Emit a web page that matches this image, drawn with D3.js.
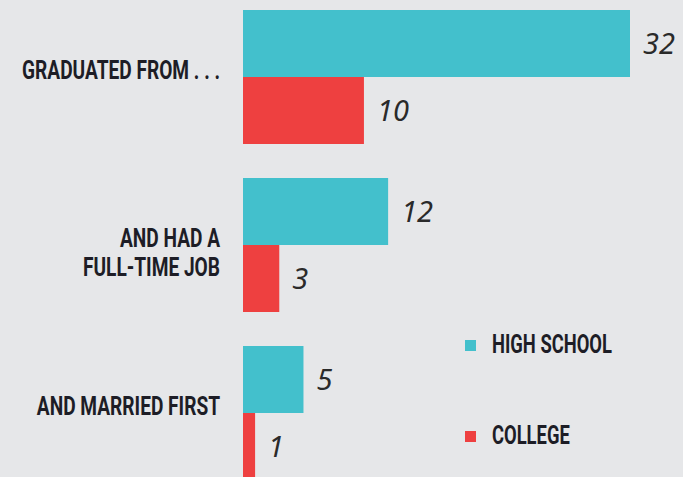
<!DOCTYPE html>
<html>
<head>
<meta charset="utf-8">
<script src="https://cdn.jsdelivr.net/npm/d3@7"></script>
<style>
  html, body { margin: 0; padding: 0; background: #e6e7e9; }
  svg { display: block; }
  .cat, .leg { font-family: Roboto, "DejaVu Sans", sans-serif; font-weight: bold; fill: #1d1d26; }
  .val { font-family: "Noto Sans", "Open Sans", sans-serif; font-style: italic; fill: #2a2a2a; }
</style>
</head>
<body>
<div id="chart"></div>
<script>

// chart values
var categories = ["GRADUATED FROM . . .", "AND HAD A\nFULL-TIME JOB", "AND MARRIED FIRST"];
var seriesNames = ["HIGH SCHOOL", "COLLEGE"];
var highSchool = [32, 12, 5];
var college = [10, 3, 1];
var colors = ["#43c0cc", "#ee4040"];

var width = 683, height = 477;

var svg = d3.select("#chart").append("svg")
  .attr("width", width).attr("height", height);

svg.append("rect").attr("width", width).attr("height", height).attr("fill", "#e6e7e9");

var x = d3.scaleLinear().domain([0, 32]).range([243, 630]);

var y0 = d3.scaleBand()
  .domain(d3.range(categories.length))
  .range([10, 480])
  .paddingInner(0.2024);

var y1 = d3.scaleBand()
  .domain([0, 1])
  .range([0, y0.bandwidth()]);

var rows = categories.map(function(c, i){
  return { name: c, values: [highSchool[i], college[i]] };
});

var g = svg.selectAll("g.group")
  .data(rows).enter()
  .append("g")
  .attr("class", "group")
  .attr("transform", function(d, i){ return "translate(0," + y0(i) + ")"; });

g.selectAll("rect.bar")
  .data(function(d){ return d.values; }).enter()
  .append("rect")
  .attr("class", "bar")
  .attr("x", x(0))
  .attr("y", function(d, j){ return y1(j); })
  .attr("width", function(d){ return x(d) - x(0); })
  .attr("height", y1.bandwidth())
  .attr("fill", function(d, j){ return colors[j]; });

g.selectAll("text.val")
  .data(function(d){ return d.values; }).enter()
  .append("text")
  .attr("class", "val")
  .attr("x", function(d){ return x(d) + 13; })
  .attr("y", function(d, j){ return y1(j) + y1.bandwidth() / 2; })
  .attr("dy", "0.36em")
  .attr("font-size", 29)
  .text(function(d){ return d; });

// category labels, right aligned, top line just above the group centre
var lab = g.append("text")
  .attr("class", "cat")
  .attr("text-anchor", "end")
  .attr("font-size", 26);

lab.selectAll("tspan")
  .data(function(d){ return d.name.split("\n"); }).enter()
  .append("tspan")
  .attr("x", 0)
  .attr("y", function(d, k){ return k * 29; })
  .text(function(d){ return d; });

// condensed look: squeeze so the first label is ~198px wide
var squeeze = 198 / lab.node().getComputedTextLength();

lab.attr("transform", "translate(220," + (y0.bandwidth() / 2 + 2) + ") scale(" + squeeze + ",1)");

// legend
var leg = svg.selectAll("g.leg")
  .data(seriesNames).enter()
  .append("g")
  .attr("class", "leg")
  .attr("transform", function(d, i){ return "translate(465," + (340 + i * 91) + ")"; });

leg.append("rect")
  .attr("width", 11).attr("height", 11)
  .attr("fill", function(d, i){ return colors[i]; });

var legText = leg.append("text")
  .attr("class", "leg")
  .attr("font-size", 26)
  .text(function(d){ return d; });

var legSqueeze = 120 / legText.node().getComputedTextLength();
legText.attr("transform", "translate(27,13) scale(" + legSqueeze + ",1)");

</script>
</body>
</html>
